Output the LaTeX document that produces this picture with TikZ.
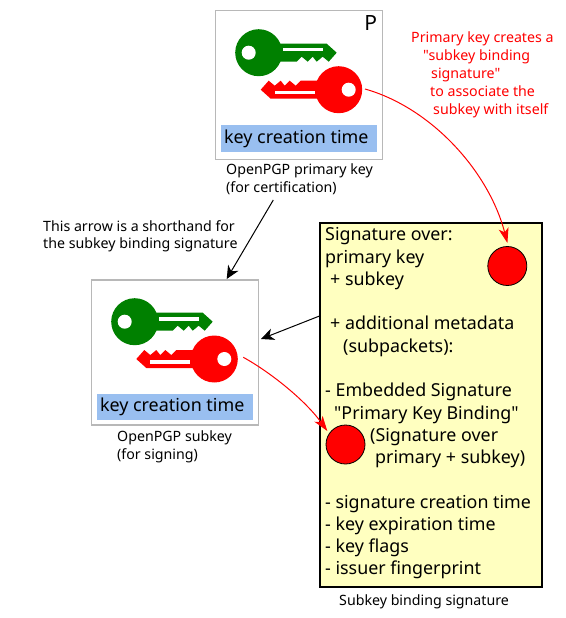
\documentclass[tikz,border=0pt]{standalone}
\usepackage{fontspec}
\setmainfont{Noto Sans}[Ligatures=TeXOff]
\usetikzlibrary{arrows.meta}
\definecolor{keyblue}{HTML}{99BFF0}
\definecolor{keygreen}{HTML}{008000}
\definecolor{sigyellow}{HTML}{FFFFC0}
\definecolor{framegrey}{HTML}{B8B8B8}
\tikzset{
  framebox/.style={draw=framegrey,line width=1.2pt,fill=white,inner sep=0pt,minimum width=167pt,minimum height=149pt},
  timebar/.style={fill=keyblue,inner sep=0pt,minimum width=156pt,minimum height=27pt,font=\fontsize{17.9}{20}\selectfont},
  caption/.style={inner sep=0pt,anchor=north west,align=left,font=\fontsize{14.2}{17.8}\selectfont},
  redlabel/.style={caption,text=red},
  signode/.style={circle,draw=black,line width=.8pt,fill=red,inner sep=0pt,minimum size=39pt},
  sigbox/.style={fill=sigyellow,inner sep=0pt},
  sigborder/.style={draw=black,line width=2pt,line join=miter},
  sigtext/.style={inner sep=0pt,anchor=north west,align=left,font=\fontsize{17.85}{22.27}\selectfont},
  blackarrow/.style={draw=black,line width=1pt,-{Stealth[length=13pt,width=12pt,inset=4pt]}},
  redarrow/.style={draw=red,line width=1pt,-{Stealth[length=15pt,width=10pt,inset=4pt]}}
}
\newcommand{\keyshape}[1]{%
  \fill[#1] (0,0) circle (23.5);
  \fill[#1] (18,-9) -- (68,-9) -- (78,0) -- (70,9) -- (64,4) -- (58,9) -- (54,4) -- (49,9) -- (43,4) -- (38,9) -- (18,9) -- cycle;
  \fill[white] (-10,0) circle (7);
  \fill[white] (24,-4.7) rectangle (64,-1.2);
}
\newcommand{\keypair}[4]{%
  \begin{scope}[shift={(#1,#2)}]\keyshape{keygreen}\end{scope}
  \begin{scope}[shift={(#3,#4)},rotate=180]\keyshape{red}\end{scope}
}
\begin{document}
\begin{tikzpicture}[x=1pt,y=-1pt]
\useasboundingbox (0,0) rectangle (565,618);
\fill[white] (0,0) rectangle (565,618);
% primary key box
\node[framebox] (pbox) at (298.8,85.3) {};
\keypair{258.7}{52.7}{338.7}{89.7}
\node[inner sep=0pt,font=\fontsize{21}{24}\selectfont] (plabel) at (370.7,23.5) {P};
\node[timebar] (ptime) at (298.8,138.7) {\hspace*{-5pt}key creation time};
\node[caption] (pcap) at (226,164) {OpenPGP primary key\\(for certification)};
% subkey box
\node[framebox,minimum height=145pt] (sbox) at (174.7,352.5) {};
\keypair{134.7}{321.7}{214.3}{359}
\node[timebar,minimum height=26pt] (stime) at (174.7,407.2) {\hspace*{-5pt}key creation time};
\node[caption] (scap) at (117,431) {OpenPGP subkey\\(for signing)};
% signature box
\node[sigbox,minimum width=222pt,minimum height=363.5pt,anchor=north west] (sigb) at (319.5,223) {};
\draw[sigborder] (sigb.north west) rectangle (sigb.south east);
\node[sigtext] (sigt) at (325,227.5) {Signature over:\\primary key\\\hspace*{5pt}+ subkey\\[22.27pt]\hspace*{5pt}+ additional metadata\\\hspace*{18pt}(subpackets):\\[22.27pt]- Embedded Signature\\\hspace*{9pt}"Primary Key Binding"\\\hspace*{45pt}(Signature over\\\hspace*{50pt}primary + subkey)\\[22.27pt]- signature creation time\\- key expiration time\\- key flags\\- issuer fingerprint};
\node[signode] (sigA) at (507.3,266) {};
\node[signode] (sigB) at (345.5,444.5) {};
\node[caption] (sigcap) at (339,594) {Subkey binding signature};
% labels
\node[redlabel] (rednote) at (411,32) {Primary key creates a\\\hspace*{12pt}"subkey binding\\\hspace*{20pt}signature"\\\hspace*{19pt}to associate the\\\hspace*{22pt}subkey with itself};
\node[caption] (arrownote) at (43,220) {This arrow is a shorthand for\\the subkey binding signature};
% connectors
\coordinate (redstartA) at (365,89);
\coordinate (redstartB) at (243.3,357.3);
\coordinate (redtipA) at (507.4,243);
\coordinate (redtipB) at (327.3,431);
\coordinate (blackstartA) at (273.3,200);
\coordinate (blacktipA) at (226.7,279);
\coordinate (blacktipB) at (261,339);
\draw[redarrow] (redstartA) .. controls (432,108) and (489,172) .. (redtipA);
\draw[redarrow] (redstartB) .. controls (270,372) and (305,400) .. (redtipB);
\draw[blackarrow] (blackstartA) -- (blacktipA);
\draw[blackarrow] (sigb.west |- 0,316) -- (blacktipB);
\end{tikzpicture}
\end{document}
